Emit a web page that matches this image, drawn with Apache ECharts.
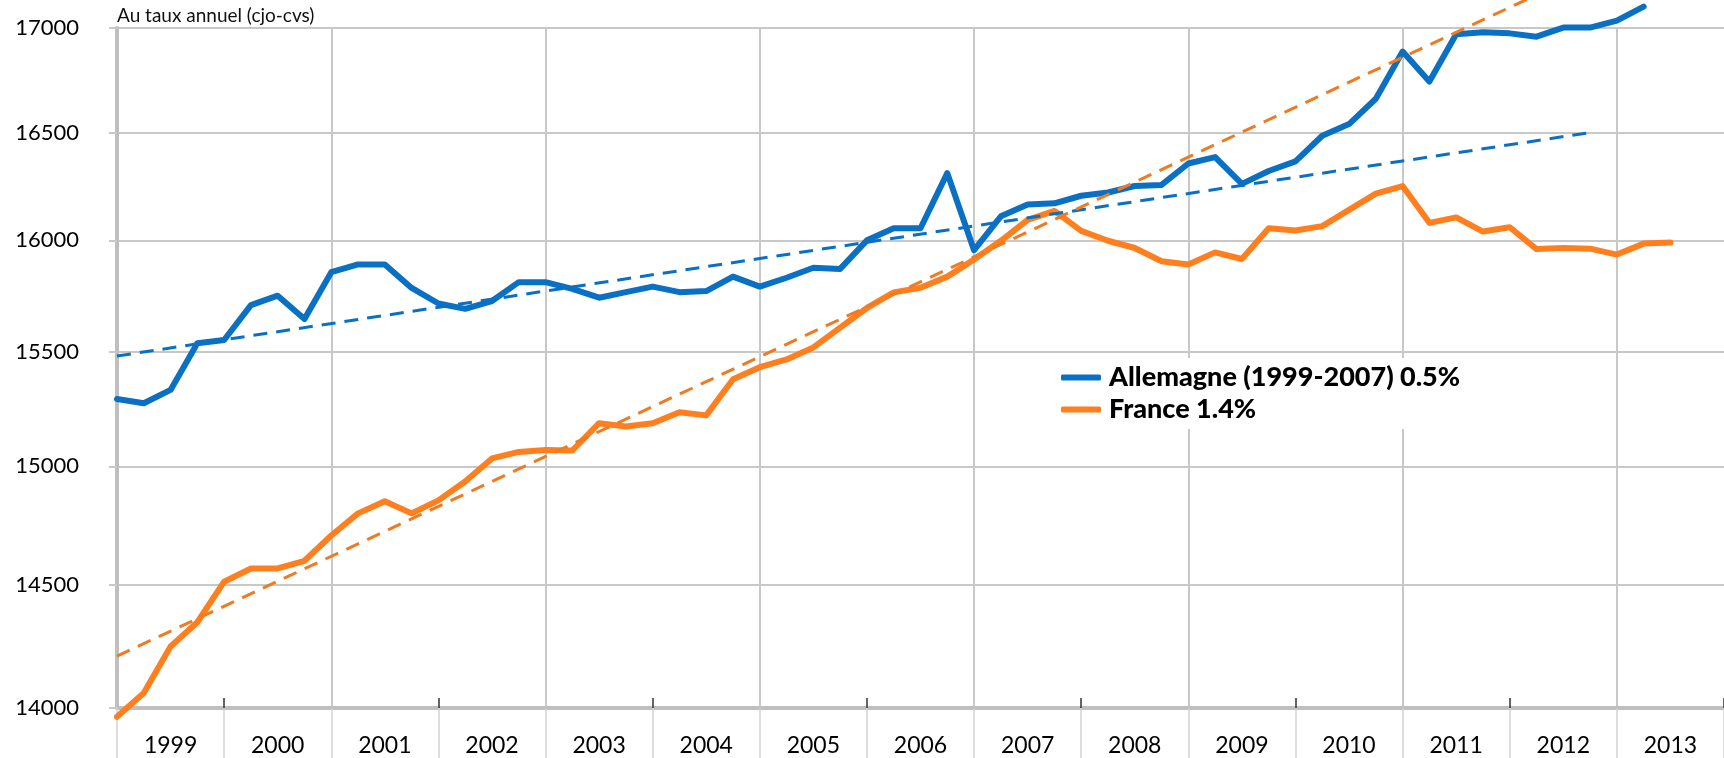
<!DOCTYPE html>
<html>
<head>
<meta charset="utf-8">
<script src="https://cdn.jsdelivr.net/npm/echarts@6/dist/echarts.min.js"></script>
<style>
html,body{margin:0;padding:0;background:#fff;}
#chart{width:1724px;height:758px;}
</style>
</head>
<body>
<div id="chart"></div>
<script>
// ---- Data ----
const years = ['1999','2000','2001','2002','2003','2004','2005','2006','2007','2008','2009','2010','2011','2012','2013'];
const quarters = ['T1','T2','T3','T4'];
const axisEndCategory = '2014T1';
const yTicks = [14000, 14500, 15000, 15500, 16000, 16500, 17000];

const germanyName = 'Allemagne (1999-2007) 0.5%';
const franceName = 'France 1.4%';

const germany = [15291, 15273, 15331, 15537, 15551, 15707, 15749, 15645, 15855, 15890,
  15890, 15784, 15714, 15690, 15725, 15810, 15810, 15780, 15740, 15765,
  15790, 15765, 15770, 15835, 15790, 15830, 15875, 15870, 16000, 16055,
  16055, 16310, 15955, 16110, 16165, 16170, 16205, 16220, 16250, 16255,
  16355, 16385, 16260, 16320, 16365, 16485, 16540, 16660, 16886, 16742,
  16970, 16979, 16974, 16958, 17002, 17002, 17036, 17104];

const france = [13965, 14060, 14248, 14347, 14514, 14569, 14569, 14601, 14707, 14800,
  14851, 14800, 14855, 14935, 15034, 15062, 15070, 15068, 15186, 15172,
  15186, 15234, 15220, 15378, 15431, 15465, 15518, 15606, 15694, 15764,
  15785, 15835, 15913, 15998, 16094, 16135, 16043, 15998, 15965, 15905,
  15890, 15945, 15915, 16055, 16045, 16065, 16140, 16215, 16250, 16080,
  16105, 16040, 16060, 15960, 15965, 15962, 15935, 15985, 15990];

// trend lines (constant growth → straight on log axis): [start, end] values at quarter indices
const trendIndex = [0, 55];
const germanyTrend = [15480, 16500];
const franceTrend = [14209, 17284];

// ---- Build ----
const categories = [];
years.forEach(y => quarters.forEach(q => categories.push(y + q)));
categories.push(axisEndCategory);

const FONT = 'Lato, "Liberation Sans", sans-serif';
const BLUE = '#0A70C4';
const ORANGE = '#FF7F1E';
const ORANGE_DASH = '#EE7B22';

const chart = echarts.init(document.getElementById('chart'), null, {renderer: 'canvas'});
chart.setOption({
  animation: false,
  backgroundColor: '#ffffff',
  textStyle: {fontFamily: FONT},
  grid: {left: 117, right: -12, top: 28, bottom: 50, containLabel: false},
  legend: {
    data: [germanyName, franceName],
    orient: 'vertical',
    left: 1051, top: 358,
    backgroundColor: '#ffffff',
    padding: [6, 10, 6, 10],
    itemGap: 5,
    itemWidth: 40, itemHeight: 6,
    icon: 'roundRect',
    textStyle: {fontSize: 27, fontWeight: 900, color: '#000', fontFamily: FONT, padding: [0, 0, 0, 3]}
  },
  xAxis: [{
    type: 'category',
    data: categories,
    boundaryGap: false,
    position: 'bottom',
    axisLine: {show: true, onZero: false, lineStyle: {color: '#BFBFBF', width: 4}},
    axisTick: {show: true, inside: true, length: 10, interval: (i) => i % 8 === 4,
      lineStyle: {color: '#333', width: 1.5}},
    axisLabel: {show: true, interval: (i) => i % 4 === 2, formatter: (v) => v.slice(0, 4),
      margin: 26, fontSize: 23, color: '#000', fontFamily: FONT},
    splitLine: {show: true, interval: (i) => i % 8 === 0 && i > 0,
      lineStyle: {color: '#C8C8C8', width: 2}}
  }, {
    type: 'category',
    data: categories,
    boundaryGap: false,
    position: 'bottom',
    axisLine: {show: false},
    axisTick: {show: true, inside: false, length: 60, interval: (i) => i % 4 === 0,
      lineStyle: {color: '#D2D2D2', width: 1.5}},
    axisLabel: {show: false},
    splitLine: {show: false}
  }],
  yAxis: {
    type: 'log',
    logBase: 10,
    min: 14000, max: 17000,
    name: 'Au taux annuel (cjo-cvs)',
    nameLocation: 'end',
    nameGap: 3,
    nameTextStyle: {align: 'left', verticalAlign: 'bottom', fontSize: 19, color: '#111', fontFamily: FONT},
    axisLine: {show: true, lineStyle: {color: '#BFBFBF', width: 4}},
    axisTick: {show: true, length: 8, customValues: yTicks, lineStyle: {color: '#C8C8C8', width: 2}},
    axisLabel: {customValues: yTicks, margin: 38, fontSize: 22, color: '#000', fontFamily: FONT,
      formatter: (v) => String(Math.round(v))},
    splitLine: {show: true, lineStyle: {color: '#C8C8C8', width: 2}}
  },
  series: [{
    name: germanyName, type: 'line', data: germany, symbol: 'none', clip: false, z: 3,
    lineStyle: {color: BLUE, width: 6, cap: 'round', join: 'round'}, itemStyle: {color: BLUE}
  }, {
    name: franceName, type: 'line', data: france, symbol: 'none', clip: false, z: 3,
    lineStyle: {color: ORANGE, width: 6, cap: 'round', join: 'round'}, itemStyle: {color: ORANGE}
  }, {
    name: 'Tendance Allemagne', type: 'line', symbol: 'none', clip: false, z: 4,
    data: trendIndex.map((ix, k) => [ix, germanyTrend[k]]),
    lineStyle: {color: BLUE, width: 3, type: [14, 9]}
  }, {
    name: 'Tendance France', type: 'line', symbol: 'none', clip: false, z: 4,
    data: trendIndex.map((ix, k) => [ix, franceTrend[k]]),
    lineStyle: {color: ORANGE_DASH, width: 3, type: [14, 9]}
  }]
});
</script>
</body>
</html>
